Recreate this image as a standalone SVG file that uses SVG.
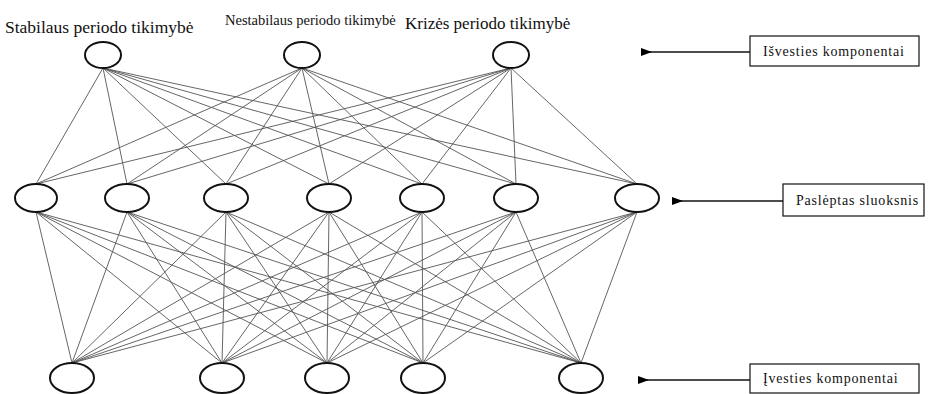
<svg xmlns="http://www.w3.org/2000/svg" width="928" height="394" viewBox="0 0 928 394">
  <defs>
    <marker id="arrow" markerWidth="11" markerHeight="8" refX="10" refY="4" orient="auto" markerUnits="userSpaceOnUse">
      <path d="M0,4 L11,0 L11,8 Z" fill="#000"/>
    </marker>
    <style>
      .node { fill: #fff; stroke: #111; stroke-width: 2; }
      .edge { stroke: #555; stroke-width: 0.9; fill: none; }
      .box { fill: #fff; stroke: #111; stroke-width: 1.2; }
      .pointer { stroke: #111; stroke-width: 1.3; fill: none; }
    </style>
  </defs>
  <rect width="928" height="394" fill="#fff"/>

  <!-- full connections: output layer to hidden layer, hidden layer to input layer -->
  <g id="connectors">
    <!-- output -> hidden -->
    <path class="edge" d="M103,68 L36,184 M103,68 L127,184 M103,68 L226,184 M103,68 L329,184 M103,68 L422,184 M103,68 L516,184 M103,68 L637,184"/>
    <path class="edge" d="M302,68 L36,184 M302,68 L127,184 M302,68 L226,184 M302,68 L329,184 M302,68 L422,184 M302,68 L516,184 M302,68 L637,184"/>
    <path class="edge" d="M511,68 L36,184 M511,68 L127,184 M511,68 L226,184 M511,68 L329,184 M511,68 L422,184 M511,68 L516,184 M511,68 L637,184"/>
    <!-- hidden -> input -->
    <path class="edge" d="M36,212 L72,363 M36,212 L222,363 M36,212 L327,363 M36,212 L423,363 M36,212 L581,363"/>
    <path class="edge" d="M127,212 L72,363 M127,212 L222,363 M127,212 L327,363 M127,212 L423,363 M127,212 L581,363"/>
    <path class="edge" d="M226,212 L72,363 M226,212 L222,363 M226,212 L327,363 M226,212 L423,363 M226,212 L581,363"/>
    <path class="edge" d="M329,212 L72,363 M329,212 L222,363 M329,212 L327,363 M329,212 L423,363 M329,212 L581,363"/>
    <path class="edge" d="M422,212 L72,363 M422,212 L222,363 M422,212 L327,363 M422,212 L423,363 M422,212 L581,363"/>
    <path class="edge" d="M516,212 L72,363 M516,212 L222,363 M516,212 L327,363 M516,212 L423,363 M516,212 L581,363"/>
    <path class="edge" d="M637,212 L72,363 M637,212 L222,363 M637,212 L327,363 M637,212 L423,363 M637,212 L581,363"/>
    <!-- layer pointers from the legend boxes -->
    <line class="pointer" x1="750" y1="52" x2="642" y2="52" marker-end="url(#arrow)"/>
    <line class="pointer" x1="783" y1="201" x2="673" y2="201" marker-end="url(#arrow)"/>
    <line class="pointer" x1="750" y1="380" x2="639" y2="380" marker-end="url(#arrow)"/>
  </g>

  <!-- output layer -->
  <g id="out-stable">
    <text x="5" y="33" font-family="Liberation Serif, DejaVu Serif, serif" font-size="17.5" fill="#111">Stabilaus periodo tikimybė</text>
    <ellipse class="node" cx="103" cy="55" rx="18" ry="13"/>
  </g>
  <g id="out-unstable">
    <text x="225" y="25" font-family="Liberation Serif, DejaVu Serif, serif" font-size="14.5" fill="#111">Nestabilaus periodo tikimybė</text>
    <ellipse class="node" cx="302" cy="55" rx="18" ry="13"/>
  </g>
  <g id="out-crisis">
    <text x="405" y="29" font-family="Liberation Serif, DejaVu Serif, serif" font-size="17" fill="#111">Krizės periodo tikimybė</text>
    <ellipse class="node" cx="511" cy="55" rx="18" ry="13"/>
  </g>

  <!-- hidden layer -->
  <g id="hidden-1"><ellipse class="node" cx="36" cy="198" rx="21" ry="14"/></g>
  <g id="hidden-2"><ellipse class="node" cx="127" cy="198" rx="22" ry="14"/></g>
  <g id="hidden-3"><ellipse class="node" cx="226" cy="198" rx="22" ry="14"/></g>
  <g id="hidden-4"><ellipse class="node" cx="329" cy="198" rx="22" ry="14"/></g>
  <g id="hidden-5"><ellipse class="node" cx="422" cy="198" rx="22" ry="14"/></g>
  <g id="hidden-6"><ellipse class="node" cx="516" cy="198" rx="22" ry="14"/></g>
  <g id="hidden-7"><ellipse class="node" cx="637" cy="198" rx="22" ry="14"/></g>

  <!-- input layer -->
  <g id="input-1"><ellipse class="node" cx="72" cy="378" rx="22" ry="15"/></g>
  <g id="input-2"><ellipse class="node" cx="222" cy="378" rx="22" ry="15"/></g>
  <g id="input-3"><ellipse class="node" cx="327" cy="378" rx="22" ry="15"/></g>
  <g id="input-4"><ellipse class="node" cx="423" cy="378" rx="22" ry="15"/></g>
  <g id="input-5"><ellipse class="node" cx="581" cy="378" rx="22" ry="15"/></g>

  <!-- legend boxes -->
  <g id="legend-output">
    <rect class="box" x="750" y="36" width="169" height="30"/>
    <text x="763" y="56" font-family="Liberation Serif, DejaVu Serif, serif" font-size="14" letter-spacing="0.8" fill="#111">Išvesties komponentai</text>
  </g>
  <g id="legend-hidden">
    <rect class="box" x="783" y="184" width="141" height="32"/>
    <text x="796" y="205" font-family="Liberation Serif, DejaVu Serif, serif" font-size="14" letter-spacing="0.8" fill="#111">Paslėptas sluoksnis</text>
  </g>
  <g id="legend-input">
    <rect class="box" x="750" y="364" width="169" height="29"/>
    <text x="763" y="383" font-family="Liberation Serif, DejaVu Serif, serif" font-size="14" letter-spacing="0.8" fill="#111">Įvesties komponentai</text>
  </g>
</svg>
